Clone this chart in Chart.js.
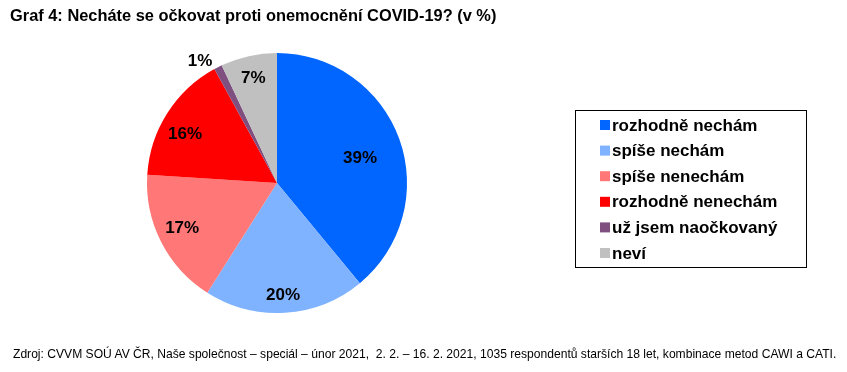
<!DOCTYPE html>
<html>
<head>
<meta charset="utf-8">
<script src="https://cdn.jsdelivr.net/npm/chart.js@4/dist/chart.umd.min.js"></script>
<style>
  body { margin: 0; background: #fff; }
  #wrap { position: relative; width: 847px; height: 372px; }
  #titulek { position: absolute; left: 10px; top: 6px; font: bold 16.4px "Liberation Sans", Arial, sans-serif; color: #000; white-space: nowrap; }
  #zdroj { position: absolute; left: 13px; top: 347px; font: 12.1px "Liberation Sans", Arial, sans-serif; color: #000; white-space: nowrap; }
</style>
</head>
<body>
<div id="wrap">
  <canvas id="graf" width="847" height="372"></canvas>
  <div id="titulek">Graf 4: Necháte se očkovat proti onemocnění COVID-19? (v %)</div>
  <div id="zdroj">Zdroj: CVVM SOÚ AV ČR, Naše společnost – speciál – únor 2021,&nbsp; 2. 2. – 16. 2. 2021, 1035 respondentů starších 18 let, kombinace metod CAWI a CATI.</div>
</div>
<script>
// Kategorie a hodnoty (v %)
const kategorie = ['rozhodně nechám', 'spíše nechám', 'spíše nenechám', 'rozhodně nenechám', 'už jsem naočkovaný', 'neví'];
const hodnoty = [39, 20, 17, 16, 1, 7];
const barvy = ['#0066ff', '#80b3ff', '#ff7777', '#ff0000', '#7f4f80', '#c0c0c0'];
// umístění popisků: podíl poloměru a posun úhlu (stupně)
const poziceStitku = [0.67, 0.855, 0.805, 0.805, 1.117, 0.836];
const posunUhlu = [2.4, 0.5, 2, -3.9, -5, 0];

// popisky s procenty
const stitky = {
  id: 'stitky',
  afterDatasetsDraw(chart) {
    const ctx = chart.ctx;
    const meta = chart.getDatasetMeta(0);
    ctx.save();
    ctx.font = 'bold 17px "Liberation Sans", Arial, sans-serif';
    ctx.fillStyle = '#000';
    ctx.textAlign = 'center';
    ctx.textBaseline = 'middle';
    meta.data.forEach(function (arc, i) {
      const p = arc.getProps(['x', 'y', 'startAngle', 'endAngle', 'outerRadius'], true);
      const uhel = (p.startAngle + p.endAngle) / 2 + posunUhlu[i] * Math.PI / 180;
      const r = p.outerRadius * poziceStitku[i];
      ctx.fillText(hodnoty[i] + '%', p.x + Math.cos(uhel) * r, p.y + Math.sin(uhel) * r + 1);
    });
    ctx.restore();
  }
};

// legenda v rámečku
const legenda = {
  id: 'legenda',
  afterDraw(chart) {
    const ctx = chart.ctx;
    const x = 575, y = 110, w = 231, h = 157;
    ctx.save();
    ctx.strokeStyle = '#000';
    ctx.lineWidth = 1;
    ctx.strokeRect(x + 0.5, y + 0.5, w, h);
    ctx.font = 'bold 17px "Liberation Sans", Arial, sans-serif';
    ctx.textBaseline = 'middle';
    chart.data.labels.forEach(function (lab, i) {
      const cy = 125 + i * 25.6;
      ctx.fillStyle = chart.data.datasets[0].backgroundColor[i];
      ctx.fillRect(600, cy - 5, 10, 10);
      ctx.fillStyle = '#000';
      ctx.fillText(lab, 612, cy + 1);
    });
    ctx.restore();
  }
};

let graf = new Chart(document.getElementById('graf').getContext('2d'), {
  type: 'pie',
  data: {
    labels: kategorie,
    datasets: [{
      data: hodnoty,
      backgroundColor: barvy,
      borderWidth: 0
    }]
  },
  options: {
    responsive: false,
    animation: false,
    layout: { padding: { left: 147, right: 440, top: 53, bottom: 59 } },
    plugins: {
      legend: { display: false },
      tooltip: { enabled: false }
    }
  },
  plugins: [stitky, legenda]
});
</script>
</body>
</html>
